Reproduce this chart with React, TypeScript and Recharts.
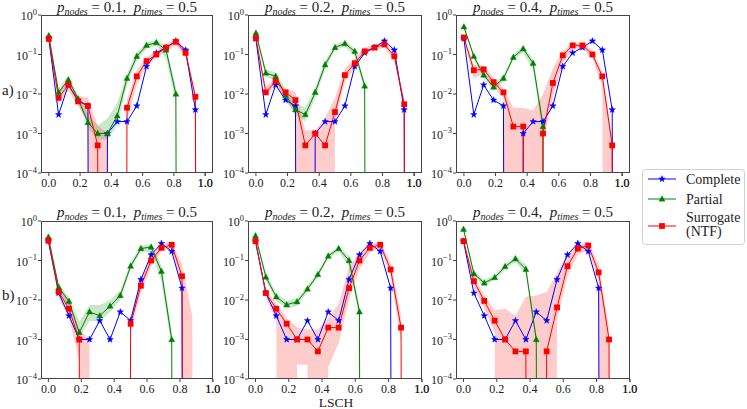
import React from 'react';
import { ComposedChart, Line, Area, XAxis, YAxis } from 'recharts';

// LSCH bin positions (k/16) and axis ticks
const bins = [0, 0.0625, 0.125, 0.1875, 0.25, 0.3125, 0.375, 0.4375, 0.5, 0.5625, 0.625, 0.6875, 0.75, 0.8125, 0.875, 0.9375, 1.0];
const xTicks = [0, 0.2, 0.4, 0.6, 0.8, 1.0];
const yTicks = [1e-4, 1e-3, 1e-2, 1e-1, 1];

const pNodes = ['0.1', '0.2', '0.4'];
const pTimes = '0.5';
const rowLabels = ['a)', 'b)'];

// row a) -- complete curve is shared by the three panels
const completeA = [0.25, 0.003, 0.017, 0.007, 0.005, 0, 0.001, 0.002, 0.002, 0.005, 0.05, 0.11, 0.15, 0.22, 0.13, 0.004, 0];

const partialA1 = [0.3, 0.011, 0.023, 0.0075, 0.0019, 0.001, 0.001, 0.0028, 0.025, 0.09, 0.17, 0.2, 0.13, 0.01, 0, 0, 0];
const partialA1Lo = [0.26, 0.009, 0.019, 0.006, 0.0014, 0.0007, 0.0007, 0.0016, 0.018, 0.07, 0.14, 0.17, 0.08, 0.006, 0, 0, 0];
const partialA1Hi = [0.34, 0.014, 0.028, 0.0095, 0.003, 0.0016, 0.0024, 0.006, 0.032, 0.11, 0.2, 0.23, 0.16, 0.015, 0, 0, 0];
const surrogateA1 = [0.25, 0.008, 0.017, 0.0065, 0.005, 0.0005, 0, 0, 0.0045, 0.028, 0.068, 0.1, 0.15, 0.21, 0.11, 0.0085, 0];
const surrogateA1Lo = [0.21, 0.006, 0.012, 0.005, 0.002, 0, 0, 0, 0.002, 0.017, 0.05, 0.08, 0.12, 0.17, 0.085, 0.005, 0];
const surrogateA1Hi = [0.29, 0.011, 0.022, 0.009, 0.008, 0.0016, 0.001, 0, 0.007, 0.04, 0.085, 0.12, 0.18, 0.25, 0.13, 0.011, 0];

const partialA2 = [0.35, 0.034, 0.028, 0.0093, 0.004, 0.003, 0.011, 0.055, 0.15, 0.19, 0.12, 0.016, 0, 0, 0, 0, 0];
const partialA2Lo = [0.3, 0.027, 0.022, 0.007, 0.003, 0.002, 0.008, 0.042, 0.13, 0.16, 0.09, 0.012, 0, 0, 0, 0, 0];
const partialA2Hi = [0.41, 0.042, 0.035, 0.012, 0.006, 0.0045, 0.015, 0.07, 0.18, 0.22, 0.14, 0.02, 0, 0, 0, 0, 0];
const surrogateA2 = [0.26, 0.011, 0.021, 0.011, 0.007, 0.0005, 0.001, 0.0005, 0.0035, 0.03, 0.06, 0.12, 0.15, 0.18, 0.09, 0.0055, 0];
const surrogateA2Lo = [0.22, 0.009, 0.016, 0.008, 0.003, 0, 0, 0, 0.002, 0.02, 0.045, 0.1, 0.13, 0.15, 0.07, 0.004, 0];
const surrogateA2Hi = [0.3, 0.015, 0.026, 0.014, 0.011, 0.0012, 0.0012, 0.0025, 0.008, 0.045, 0.08, 0.15, 0.18, 0.22, 0.11, 0.008, 0];

const partialA3 = [0.5, 0.09, 0.03, 0.015, 0.025, 0.085, 0.14, 0.06, 0.0015, 0, 0, 0, 0, 0, 0, 0, 0];
const partialA3Lo = [0.45, 0.075, 0.025, 0.012, 0.02, 0.075, 0.11, 0.04, 0.0009, 0, 0, 0, 0, 0, 0, 0, 0];
const partialA3Hi = [0.56, 0.105, 0.036, 0.019, 0.03, 0.1, 0.17, 0.075, 0.0025, 0, 0, 0, 0, 0, 0, 0, 0];
const surrogateA3 = [0.27, 0.04, 0.042, 0.02, 0.011, 0.0015, 0.0015, 0, 0.001, 0.019, 0.095, 0.17, 0.17, 0.1, 0.028, 0.0005, 0];
const surrogateA3Lo = [0.23, 0.025, 0.032, 0.015, 0.008, 0, 0, 0, 0.0006, 0.008, 0.06, 0.13, 0.14, 0.08, 0.015, 0, 0];
const surrogateA3Hi = [0.31, 0.055, 0.052, 0.026, 0.014, 0.0045, 0.0045, 0.0038, 0.01, 0.045, 0.12, 0.2, 0.2, 0.13, 0.035, 0.0008, 0];

// row b)
const completeB = [0.31, 0.015, 0.004, 0.001, 0.001, 0.003, 0.001, 0.005, 0.003, 0.033, 0.14, 0.27, 0.17, 0.02, 0, 0, 0];

const partialB1 = [0.39, 0.021, 0.0093, 0.0015, 0.005, 0.004, 0.007, 0.013, 0.072, 0.2, 0.22, 0.053, 0.001, 0, 0, 0, 0];
const partialB1Lo = [0.33, 0.017, 0.0065, 0.0011, 0.003, 0.0028, 0.005, 0.01, 0.06, 0.17, 0.16, 0.03, 0.0006, 0, 0, 0, 0];
const partialB1Hi = [0.45, 0.025, 0.012, 0.0028, 0.0075, 0.0075, 0.01, 0.018, 0.09, 0.24, 0.25, 0.075, 0.0018, 0, 0, 0, 0];
const surrogateB1 = [0.32, 0.016, 0.006, 0.001, 0, 0, 0, 0, 0.0025, 0.023, 0.1, 0.21, 0.25, 0.04, 0, 0, 0];
const surrogateB1Lo = [0.28, 0.011, 0.0035, 0.0003, 0, 0, 0, 0, 0.0015, 0.015, 0.07, 0.17, 0.2, 0.02, 0, 0, 0];
const surrogateB1Hi = [0.36, 0.021, 0.009, 0.0018, 0.001, 0, 0, 0, 0.004, 0.035, 0.13, 0.26, 0.3, 0.08, 0.004, 0, 0];

const partialB2 = [0.42, 0.038, 0.012, 0.0076, 0.009, 0.019, 0.044, 0.13, 0.2, 0.1, 0.005, 0, 0, 0, 0, 0, 0];
const partialB2Lo = [0.36, 0.031, 0.0095, 0.006, 0.007, 0.016, 0.037, 0.11, 0.17, 0.07, 0.0035, 0, 0, 0, 0, 0, 0];
const partialB2Hi = [0.48, 0.046, 0.015, 0.0095, 0.011, 0.023, 0.052, 0.15, 0.23, 0.13, 0.007, 0, 0, 0, 0, 0, 0];
const surrogateB2 = [0.31, 0.015, 0.006, 0.0025, 0.001, 0.001, 0.0005, 0.002, 0.002, 0.02, 0.1, 0.21, 0.25, 0.059, 0.002, 0, 0];
const surrogateB2Lo = [0.27, 0.011, 0.003, 0, 0.00023, 0.00023, 0, 0.0002, 0.0008, 0.01, 0.06, 0.16, 0.2, 0.04, 0.001, 0, 0];
const surrogateB2Hi = [0.35, 0.019, 0.008, 0.0035, 0.002, 0.0018, 0.0018, 0.0035, 0.008, 0.07, 0.15, 0.26, 0.3, 0.09, 0.004, 0, 0];

const partialB3 = [0.62, 0.046, 0.027, 0.037, 0.07, 0.11, 0.06, 0.001, 0, 0, 0, 0, 0, 0, 0, 0, 0];
const partialB3Lo = [0.55, 0.038, 0.023, 0.032, 0.06, 0.09, 0.045, 0.0007, 0, 0, 0, 0, 0, 0, 0, 0, 0];
const partialB3Hi = [0.7, 0.055, 0.032, 0.043, 0.08, 0.13, 0.08, 0.0014, 0, 0, 0, 0, 0, 0, 0, 0, 0];
const surrogateB3 = [0.31, 0.03, 0.0095, 0.003, 0.001, 0.0005, 0.0005, 0, 0.0005, 0.0065, 0.072, 0.2, 0.24, 0.05, 0.001, 0, 0];
const surrogateB3Lo = [0.27, 0.02, 0.006, 0.0015, 0, 0, 0, 0, 0, 0.003, 0.04, 0.14, 0.18, 0.03, 0, 0, 0];
const surrogateB3Hi = [0.35, 0.04, 0.013, 0.0055, 0.006, 0.004, 0.012, 0.013, 0.016, 0.05, 0.15, 0.25, 0.3, 0.08, 0.002, 0, 0];

const BLUE = '#0000ff';
const GREEN = '#008000';
const RED = '#ff0000';
const SERIF = 'Liberation Serif';
const TXT = '#222';

// layout
const COL_X = [41, 248, 456];
const COL_W = [172, 174, 174];
const ROW_Y = [15, 221];
const PLOT_H = 158;
const YW = 40;
const MT = 12;
const MR = 24;
const XH = 20;

// log axis: zeros are pushed far below the floor, like matplotlib's clipping
const TINY = 1e-100;
const lg = (v: number) => (v > 0 ? v : TINY);

const panels = [
  { row: 0, col: 0, complete: completeA, partial: partialA1, pLo: partialA1Lo, pHi: partialA1Hi, surrogate: surrogateA1, sLo: surrogateA1Lo, sHi: surrogateA1Hi },
  { row: 0, col: 1, complete: completeA, partial: partialA2, pLo: partialA2Lo, pHi: partialA2Hi, surrogate: surrogateA2, sLo: surrogateA2Lo, sHi: surrogateA2Hi },
  { row: 0, col: 2, complete: completeA, partial: partialA3, pLo: partialA3Lo, pHi: partialA3Hi, surrogate: surrogateA3, sLo: surrogateA3Lo, sHi: surrogateA3Hi },
  { row: 1, col: 0, complete: completeB, partial: partialB1, pLo: partialB1Lo, pHi: partialB1Hi, surrogate: surrogateB1, sLo: surrogateB1Lo, sHi: surrogateB1Hi },
  { row: 1, col: 1, complete: completeB, partial: partialB2, pLo: partialB2Lo, pHi: partialB2Hi, surrogate: surrogateB2, sLo: surrogateB2Lo, sHi: surrogateB2Hi },
  { row: 1, col: 2, complete: completeB, partial: partialB3, pLo: partialB3Lo, pHi: partialB3Hi, surrogate: surrogateB3, sLo: surrogateB3Lo, sHi: surrogateB3Hi },
];

const X_DOMAIN = [[-0.05, 1.05], [-0.045, 1.001]];

type Shape = 'star' | 'tri' | 'sq';

function starPoints(cx: number, cy: number, r: number) {
  const pts: string[] = [];
  for (let i = 0; i < 10; i++) {
    const a = -Math.PI / 2 + (i * Math.PI) / 5;
    const rr = i % 2 === 0 ? r : r * 0.42;
    pts.push(`${cx + rr * Math.cos(a)},${cy + rr * Math.sin(a)}`);
  }
  return pts.join(' ');
}

const Marker = ({ shape, color, cx, cy }: { shape: Shape; color: string; cx: number; cy: number }) => {
  if (shape === 'star') return <polygon points={starPoints(cx, cy, 3.4)} fill={color} stroke={color} strokeWidth={0.4} />;
  if (shape === 'tri')
    return <polygon points={`${cx},${cy - 3.3} ${cx - 3},${cy + 2.2} ${cx + 3},${cy + 2.2}`} fill={color} stroke={color} strokeWidth={0.4} />;
  return <rect x={cx - 2.9} y={cy - 2.9} width={5.8} height={5.8} fill={color} />;
};

const makeDot = (shape: Shape, color: string, bottom: number) => (props: any) => {
  const { cx, cy, index } = props;
  const key = `dot-${shape}-${index}`;
  if (cx == null || cy == null || cy > bottom + 2) return <g key={key} />;
  return (
    <g key={key}>
      <Marker shape={shape} color={color} cx={cx} cy={cy} />
    </g>
  );
};

const PowTick = (props: any) => {
  const { x, y, payload } = props;
  const e = Math.round(Math.log10(payload.value));
  return (
    <text x={x} y={y + 5} textAnchor="end" style={{ fontFamily: SERIF }} fontSize={12} fill={TXT}>
      10
      <tspan dy={-5.5} fontSize={8.5}>
        {e < 0 ? `\u2212${-e}` : `${e}`}
      </tspan>
    </text>
  );
};

const XTick = (props: any) => {
  const { x, y, payload } = props;
  return (
    <text x={x} y={y + 9} textAnchor="middle" style={{ fontFamily: SERIF }} fontSize={12} fill={TXT}>
      {Number(payload.value).toFixed(1)}
    </text>
  );
};

// where the last x tick sits inside a panel (same linear map as the axis)
const lastTickX = (row: number, col: number) => {
  const [d0, d1] = X_DOMAIN[row];
  const v = xTicks[xTicks.length - 1];
  return COL_X[col] + (COL_W[col] * (v - d0)) / (d1 - d0);
};

const Panel = ({ p }: { p: (typeof panels)[number] }) => {
  const w = COL_W[p.col];
  const left = COL_X[p.col];
  const top = ROW_Y[p.row];
  const bottom = MT + PLOT_H;
  const data = bins.map((x, i) => ({
    x,
    c: lg(p.complete[i]),
    p: lg(p.partial[i]),
    s: lg(p.surrogate[i]),
    pBand: [lg(p.pLo[i]), lg(p.pHi[i])],
    sBand: [lg(p.sLo[i]), lg(p.sHi[i])],
  }));
  return (
    <>
      <div style={{ position: 'absolute', left: left - YW, top: top - MT }}>
        <ComposedChart width={w + YW + MR} height={MT + PLOT_H + XH} data={data} margin={{ top: MT, right: MR, bottom: 0, left: 0 }}>
          <XAxis
            type="number"
            dataKey="x"
            domain={X_DOMAIN[p.row]}
            allowDataOverflow
            ticks={xTicks}
            interval={0}
            height={XH}
            axisLine={false}
            stroke="#444"
            tickSize={3}
            tickMargin={2}
            tick={XTick}
          />
          <YAxis
            scale="log"
            domain={[1e-4, 1]}
            allowDataOverflow
            ticks={yTicks}
            interval={0}
            width={YW}
            axisLine={false}
            stroke="#444"
            tickSize={3}
            tickMargin={1}
            tick={PowTick}
          />
          <Area type="linear" dataKey="pBand" stroke="none" fill={GREEN} fillOpacity={0.2} dot={false} activeDot={false} isAnimationActive={false} />
          <Area type="linear" dataKey="sBand" stroke="none" fill={RED} fillOpacity={0.2} dot={false} activeDot={false} isAnimationActive={false} />
          <Line type="linear" dataKey="c" stroke={BLUE} strokeWidth={1} dot={makeDot('star', BLUE, bottom)} activeDot={false} isAnimationActive={false} />
          <Line type="linear" dataKey="p" stroke={GREEN} strokeWidth={1} dot={makeDot('tri', GREEN, bottom)} activeDot={false} isAnimationActive={false} />
          <Line type="linear" dataKey="s" stroke={RED} strokeWidth={1} dot={makeDot('sq', RED, bottom)} activeDot={false} isAnimationActive={false} />
        </ComposedChart>
      </div>
      <div
        style={{
          position: 'absolute',
          left,
          top,
          width: w,
          height: PLOT_H,
          border: '1px solid #444',
          boxSizing: 'border-box',
          pointerEvents: 'none',
        }}
      />
    </>
  );
};

const Title = ({ cx, y, pn }: { cx: number; y: number; pn: string }) => (
  <text x={cx} y={y} textAnchor="middle" fontSize={15} fill={TXT} style={{ whiteSpace: 'pre', fontFamily: SERIF }}>
    <tspan fontStyle="italic">p</tspan>
    <tspan fontStyle="italic" fontSize={10} dy={3}>nodes</tspan>
    <tspan dy={-3}>{` = ${pn},  `}</tspan>
    <tspan fontStyle="italic">p</tspan>
    <tspan fontStyle="italic" fontSize={10} dy={3}>times</tspan>
    <tspan dy={-3}>{` = ${pTimes}`}</tspan>
  </text>
);

const legendItems: { lines: string[]; color: string; shape: Shape; y: number }[] = [
  { lines: ['Complete'], color: BLUE, shape: 'star', y: 179 },
  { lines: ['Partial'], color: GREEN, shape: 'tri', y: 199 },
  { lines: ['Surrogate', '(NTF)'], color: RED, shape: 'sq', y: 226 },
];

const txt = { fontFamily: SERIF };

export default function App() {
  return (
    <div style={{ position: 'absolute', left: 0, top: 0, width: 747, height: 409, background: '#fff' }}>
      <svg width={747} height={409} style={{ position: 'absolute', left: 0, top: 0 }}>
        {panels.map((p, i) => (
          <Title key={i} cx={COL_X[p.col] + COL_W[p.col] / 2} y={p.row === 0 ? 12 : 217} pn={pNodes[p.col]} />
        ))}
        {/* the last x tick (1.0) that the axis leaves out */}
        {panels.map((p, i) => {
          const x = lastTickX(p.row, p.col);
          const yb = ROW_Y[p.row] + PLOT_H;
          return (
            <g key={`lt${i}`}>
              <line x1={x} x2={x} y1={yb} y2={yb + 3} stroke="#444" />
              <text x={x} y={yb + 14} textAnchor="middle" style={txt} fontSize={12} fill={TXT}>
                {xTicks[xTicks.length - 1].toFixed(1)}
              </text>
            </g>
          );
        })}
        <text x={2} y={95} style={txt} fontSize={15} fill={TXT}>{rowLabels[0]}</text>
        <text x={2} y={300} style={txt} fontSize={15} fill={TXT}>{rowLabels[1]}</text>
        <text x={336} y={407} textAnchor="middle" style={txt} fontSize={13.5} fill={TXT}>LSCH</text>
        <rect x={642.5} y={169.5} width={102} height={75} rx={3} fill="#fff" stroke="#d0d0d0" />
        {legendItems.map((it) => (
          <g key={it.lines[0]}>
            <line x1={648} x2={676} y1={it.y} y2={it.y} stroke={it.color} strokeWidth={1} />
            <Marker shape={it.shape} color={it.color} cx={662} cy={it.y} />
            {it.lines.length === 1 ? (
              <text x={686} y={it.y + 5} style={txt} fontSize={14} fill={TXT}>{it.lines[0]}</text>
            ) : (
              <>
                <text x={686} y={it.y - 4} style={txt} fontSize={14} fill={TXT}>{it.lines[0]}</text>
                <text x={686} y={it.y + 10} style={txt} fontSize={14} fill={TXT}>{it.lines[1]}</text>
              </>
            )}
          </g>
        ))}
      </svg>
      {panels.map((p, i) => (
        <Panel key={i} p={p} />
      ))}
    </div>
  );
}
